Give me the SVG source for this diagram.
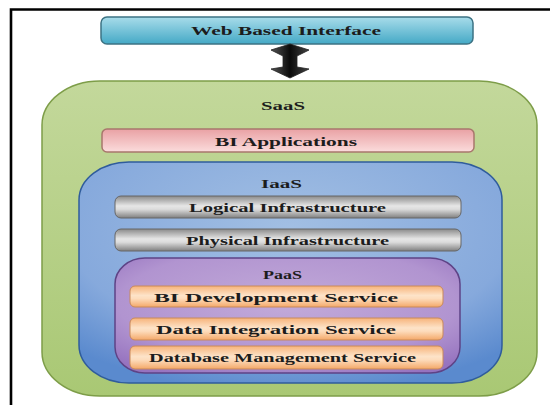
<svg xmlns="http://www.w3.org/2000/svg" width="550" height="405" viewBox="0 0 550 405">
<defs>
<linearGradient id="gWeb" x1="0" y1="0" x2="0" y2="1"><stop offset="0" stop-color="#a8dcea"/><stop offset="1" stop-color="#44a9c6"/></linearGradient>
<linearGradient id="gGreen" x1="0" y1="0" x2="0" y2="1"><stop offset="0" stop-color="#c3d89b"/><stop offset="1" stop-color="#a9c874"/></linearGradient>
<linearGradient id="gPink" x1="0" y1="0" x2="0" y2="1"><stop offset="0" stop-color="#e9a1a4"/><stop offset="1" stop-color="#fbdcdc"/></linearGradient>
<radialGradient id="gBlue" cx="0.5" cy="0.3" r="0.75"><stop offset="0" stop-color="#a2bfe3"/><stop offset="0.7" stop-color="#86a9dc"/><stop offset="1" stop-color="#5a8ace"/></radialGradient>
<linearGradient id="gGray" x1="0" y1="0" x2="0" y2="1"><stop offset="0" stop-color="#8a8a8a"/><stop offset="0.45" stop-color="#e6e6e6"/><stop offset="0.6" stop-color="#dcdcdc"/><stop offset="1" stop-color="#808080"/></linearGradient>
<radialGradient id="gPurple" cx="0.5" cy="0.4" r="0.7"><stop offset="0" stop-color="#c2aad9"/><stop offset="0.7" stop-color="#b194d0"/><stop offset="1" stop-color="#9673bf"/></radialGradient>
<linearGradient id="gOrange" x1="0" y1="0" x2="0" y2="1"><stop offset="0" stop-color="#f7b37a"/><stop offset="0.45" stop-color="#fde3c8"/><stop offset="0.6" stop-color="#fddcbc"/><stop offset="1" stop-color="#f4a868"/></linearGradient>
<linearGradient id="gArrow" x1="0" y1="0" x2="1" y2="0"><stop offset="0" stop-color="#555"/><stop offset="0.5" stop-color="#0a0a0a"/><stop offset="1" stop-color="#444"/></linearGradient>
</defs>
<style>
text{font-family:"Liberation Serif","Times New Roman",serif;font-weight:bold;font-size:13.5px;fill:#1c1c1c;text-anchor:middle;}
</style>
<rect x="0" y="0" width="550" height="405" fill="#ffffff"/>
<g id="frame"><path d="M11,405 V9.5 H550" fill="none" stroke="#000" stroke-width="2.6"/></g>

<g id="web">
<rect x="101" y="17" width="372" height="27" rx="6" fill="url(#gWeb)" stroke="#3d7384" stroke-width="1.5"/>
<text x="286" y="35" textLength="190" lengthAdjust="spacingAndGlyphs">Web Based Interface</text>
</g>

<g id="connectors">
<polygon points="290,44 309,50 297,56 297,67 309,69 290,78 271,69 283,67 283,56 271,50" fill="url(#gArrow)" stroke="#222" stroke-width="0.8"/>
</g>

<g id="saas">
<rect x="42" y="81" width="495" height="315" rx="58" ry="44" fill="url(#gGreen)" stroke="#7d9d48" stroke-width="1.5"/>
<text x="283" y="110" font-size="14.5" textLength="44" lengthAdjust="spacingAndGlyphs">SaaS</text>
</g>

<g id="bi-apps">
<rect x="102" y="129" width="372" height="23" rx="5" fill="url(#gPink)" stroke="#a8776c" stroke-width="1.5"/>
<text x="286" y="145.5" textLength="142" lengthAdjust="spacingAndGlyphs">BI Applications</text>
</g>

<g id="iaas">
<rect x="79" y="162" width="423" height="221" rx="50" ry="38" fill="url(#gBlue)" stroke="#2f5c9c" stroke-width="1.5"/>
<text x="281.5" y="187.5" textLength="41" lengthAdjust="spacingAndGlyphs">IaaS</text>
</g>

<g id="logical">
<rect x="115" y="196" width="346" height="22" rx="6" fill="url(#gGray)" stroke="#666" stroke-width="1"/>
<text x="287.5" y="212" textLength="197" lengthAdjust="spacingAndGlyphs">Logical Infrastructure</text>
</g>

<g id="physical">
<rect x="115" y="229" width="346" height="22" rx="6" fill="url(#gGray)" stroke="#666" stroke-width="1"/>
<text x="287.5" y="245" textLength="203" lengthAdjust="spacingAndGlyphs">Physical Infrastructure</text>
</g>

<g id="paas">
<rect x="115" y="258" width="345" height="115" rx="30" ry="26" fill="url(#gPurple)" stroke="#5e4386" stroke-width="1.5"/>
<text x="282.5" y="278.5" textLength="39" lengthAdjust="spacingAndGlyphs">PaaS</text>
</g>

<g id="bi-dev">
<rect x="130" y="286" width="313" height="21" rx="5" fill="url(#gOrange)" stroke="#c98a5a" stroke-width="1"/>
<text x="276" y="301.5" textLength="244" lengthAdjust="spacingAndGlyphs">BI Development Service</text>
</g>

<g id="data-int">
<rect x="130" y="318" width="313" height="22" rx="5" fill="url(#gOrange)" stroke="#c98a5a" stroke-width="1"/>
<text x="276" y="333.5" textLength="240" lengthAdjust="spacingAndGlyphs">Data Integration Service</text>
</g>

<g id="db-mgmt">
<rect x="130" y="346" width="313" height="23" rx="5" fill="url(#gOrange)" stroke="#c98a5a" stroke-width="1"/>
<text x="282.5" y="362" textLength="267" lengthAdjust="spacingAndGlyphs">Database Management Service</text>
</g>
</svg>
